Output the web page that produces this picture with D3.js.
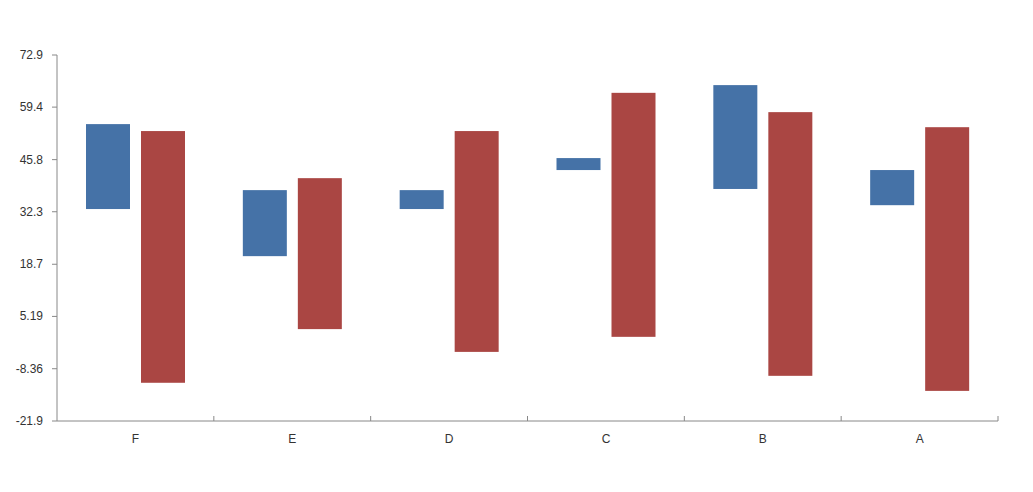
<!DOCTYPE html>
<html><head><meta charset="utf-8">
<script src="https://cdn.jsdelivr.net/npm/d3@7/dist/d3.min.js"></script>
<style>body{margin:0;background:#fff}svg text{font-family:"Liberation Sans",Arial,sans-serif;}</style>
</head><body><div id="chart"></div>
<script>
var categories = ["F","E","D","C","B","A"];
var blueLow  = [33.0, 20.8, 33.0, 43.1, 38.2, 34.0];
var blueHigh = [55.0, 37.9, 37.9, 46.2, 65.1, 43.1];
var redLow   = [-12.0, 1.9, -4.0, -0.1, -10.2, -14.1];
var redHigh  = [53.2, 41.0, 53.2, 63.1, 58.1, 54.2];
var yTicks = [-21.9, -8.36, 5.19, 18.7, 32.3, 45.8, 59.4, 72.9];

var w = 1033, h = 492, padL = 57, padR = 998, padT = 55, padB = 421;
var svg = d3.select("#chart").append("svg").attr("width", w).attr("height", h);

var x = d3.scaleBand().domain(categories).range([padL, padR]);
var y = d3.scaleLinear().domain([-21.9, 72.9]).range([padB, padT]);
var bw = 44, off = 29, gap = 11;

// y axis
svg.append("line").attr("x1", padL).attr("x2", padL).attr("y1", padT).attr("y2", padB).attr("stroke", "#888");
yTicks.forEach(function(t){
  svg.append("line").attr("x1", padL-5).attr("x2", padL).attr("y1", y(t)).attr("y2", y(t)).attr("stroke", "#888");
  svg.append("text").attr("x", padL-14).attr("y", y(t)+4).attr("text-anchor","end")
    .style("font-size","12px").style("fill","#333").text(t);
});

// bars
var g = svg.append("g");
categories.forEach(function(c,i){
  g.append("rect").attr("x", x(c)+off).attr("width", bw)
    .attr("y", y(blueHigh[i])).attr("height", y(blueLow[i])-y(blueHigh[i])).attr("fill","#4572a7");
  g.append("rect").attr("x", x(c)+off+bw+gap).attr("width", bw)
    .attr("y", y(redHigh[i])).attr("height", y(redLow[i])-y(redHigh[i])).attr("fill","#aa4643");
});

// x axis
svg.append("line").attr("x1", padL).attr("x2", padR).attr("y1", padB).attr("y2", padB).attr("stroke", "#888");
categories.forEach(function(c,i){
  svg.append("line").attr("x1", x(c)+x.bandwidth()).attr("x2", x(c)+x.bandwidth())
    .attr("y1", padB-5).attr("y2", padB).attr("stroke","#888");
  svg.append("text").attr("x", x(c)+off+bw+gap/2).attr("y", padB+22).attr("text-anchor","middle")
    .style("font-size","12px").style("fill","#333").text(c);
});
</script>
</body></html>
